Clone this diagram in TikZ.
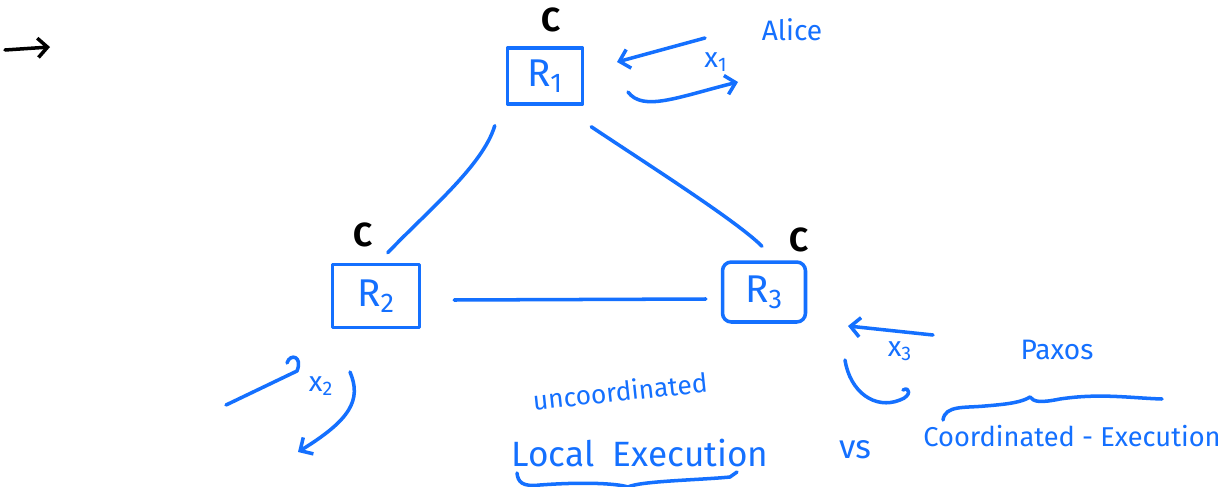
\documentclass[tikz,border=0pt]{standalone}
\usepackage{fontspec}
\setmainfont{Fira Sans}
\usetikzlibrary{arrows.meta,calc}
\definecolor{ink}{RGB}{20,112,255}
\begin{document}
\begin{tikzpicture}[x=0.02cm,y=-0.02cm,line cap=round,line join=round,
  pen/.style={draw=ink,line width=2pt},
  blackpen/.style={draw=black,line width=2pt},
  tip/.style={-{Straight Barb[length=5.5pt,width=11pt]}},
  room/.style={pen,inner sep=0pt,font=\fontsize{22}{26}\selectfont,text=ink},
  cnote/.style={font=\fontsize{19}{22}\selectfont\bfseries,text=black,inner sep=0pt},
  scribble/.style={text=ink,inner sep=0pt}]
  \fill[white] (0,0) rectangle (1225,487);
  \useasboundingbox (0,0) rectangle (1225,487);

  % the three replicas
  \node[room,minimum width=1.5cm,minimum height=1.12cm] (r1) at (545,76) {R\textsubscript{1}};
  \node[room,minimum width=1.74cm,minimum height=1.26cm] (r2) at (376,296) {R\textsubscript{2}};
  \node[room,rounded corners=5pt,minimum width=1.66cm,minimum height=1.2cm] (r3) at (764,292) {R\textsubscript{3}};

  \node[cnote] (c1) at (551,20) {C};
  \node[cnote] (c2) at (363,235) {C};
  \node[cnote] (c3) at (799,240) {C};

  % links between replicas
  \coordinate (l12a) at ($(r1.south west)+(-11,20)$);
  \coordinate (l12b) at ($(r2.north west)+(57,-10)$);
  \coordinate (l13a) at ($(r1.south east)+(7,21)$);
  \coordinate (l13b) at ($(r3.north)+(-2,-14)$);
  \coordinate (l23a) at ($(r2.east)+(33,4)$);
  \coordinate (l23b) at ($(r3.west)+(-15,7)$);
  \draw[pen] (l12a) .. controls +(-12,40) and +(40,-42) .. (l12b);
  \draw[pen] (l13a) .. controls +(60,40) and +(-25,-25) .. (l13b);
  \draw[pen] (l23a) -- (l23b);

  % Alice's request to R1
  \node[scribble,font=\fontsize{16}{18}\selectfont] (alice) at (792,30) {Alice};
  \coordinate (q1) at (705,38);
  \coordinate (q1end) at (617,62);
  \draw[pen,tip] (q1) -- (q1end);
  \node[scribble,font=\fontsize{16}{18}\selectfont] (x1) at (716,62) {x\textsubscript{1}};
  \coordinate (a1) at (628,92);
  \coordinate (a1end) at (738,82);
  \draw[pen,tip] (a1) .. controls +(15,20) and +(-60,15) .. (a1end);

  % request to R2
  \coordinate (q2) at (226,405);
  \draw[pen] (287,363) .. controls (290,353) and (303,356) .. (297,371) -- (q2);
  \node[scribble,font=\fontsize{16}{18}\selectfont] (x2) at (321,386) {x\textsubscript{2}};
  \coordinate (a2) at (350,372);
  \coordinate (a2end) at (298,452);
  \draw[pen,tip] (a2) .. controls (362,400) and (350,420) .. (a2end);

  % Paxos request to R3
  \node[scribble,font=\fontsize{16}{18}\selectfont] (paxos) at (1057,350) {Paxos};
  \coordinate (q3) at (933,335);
  \coordinate (q3end) at (848,326);
  \draw[pen,tip] (q3) -- (q3end);
  \node[scribble,font=\fontsize{16}{18}\selectfont] (x3) at (900,351) {x\textsubscript{3}};
  \coordinate (a3) at (845,360);
  \draw[pen] (a3) .. controls (850,392) and (875,410) .. (900,400)
    .. controls (912,396) and (910,386) .. (903,390);

  % comparison of the two execution modes
  \node[scribble,rotate=6,font=\fontsize{15}{18}\selectfont] (unc) at (620,391) {uncoordinated};
  \node[scribble,font=\fontsize{20}{24}\selectfont] (local) at (640,453) {Local\ \ Execution};
  \node[scribble,font=\fontsize{19}{22}\selectfont] (vs) at (855,450) {vs};
  \node[scribble,font=\fontsize{15.5}{18}\selectfont] (coord) at (1072,436) {Coordinated - Execution};

  \draw[pen] (943,420) .. controls (945,405) and (965,408) .. (985,406)
    .. controls (1010,404) and (1022,402) .. (1030,397)
    .. controls (1034,402) and (1040,403) .. (1060,399)
    .. controls (1100,393) and (1130,398) .. (1162,399);
  \draw[pen] (517,473) .. controls (518,482) and (522,487) .. (540,485)
    .. controls (580,482) and (615,483) .. (628,487)
    .. controls (640,481) and (700,480) .. (730,477) -- (737,472);

  % marker arrow in the corner
  \coordinate (m0) at (5,50);
  \coordinate (m1) at (50,47);
  \draw[blackpen,tip] (m0) -- (m1);
\end{tikzpicture}
\end{document}
